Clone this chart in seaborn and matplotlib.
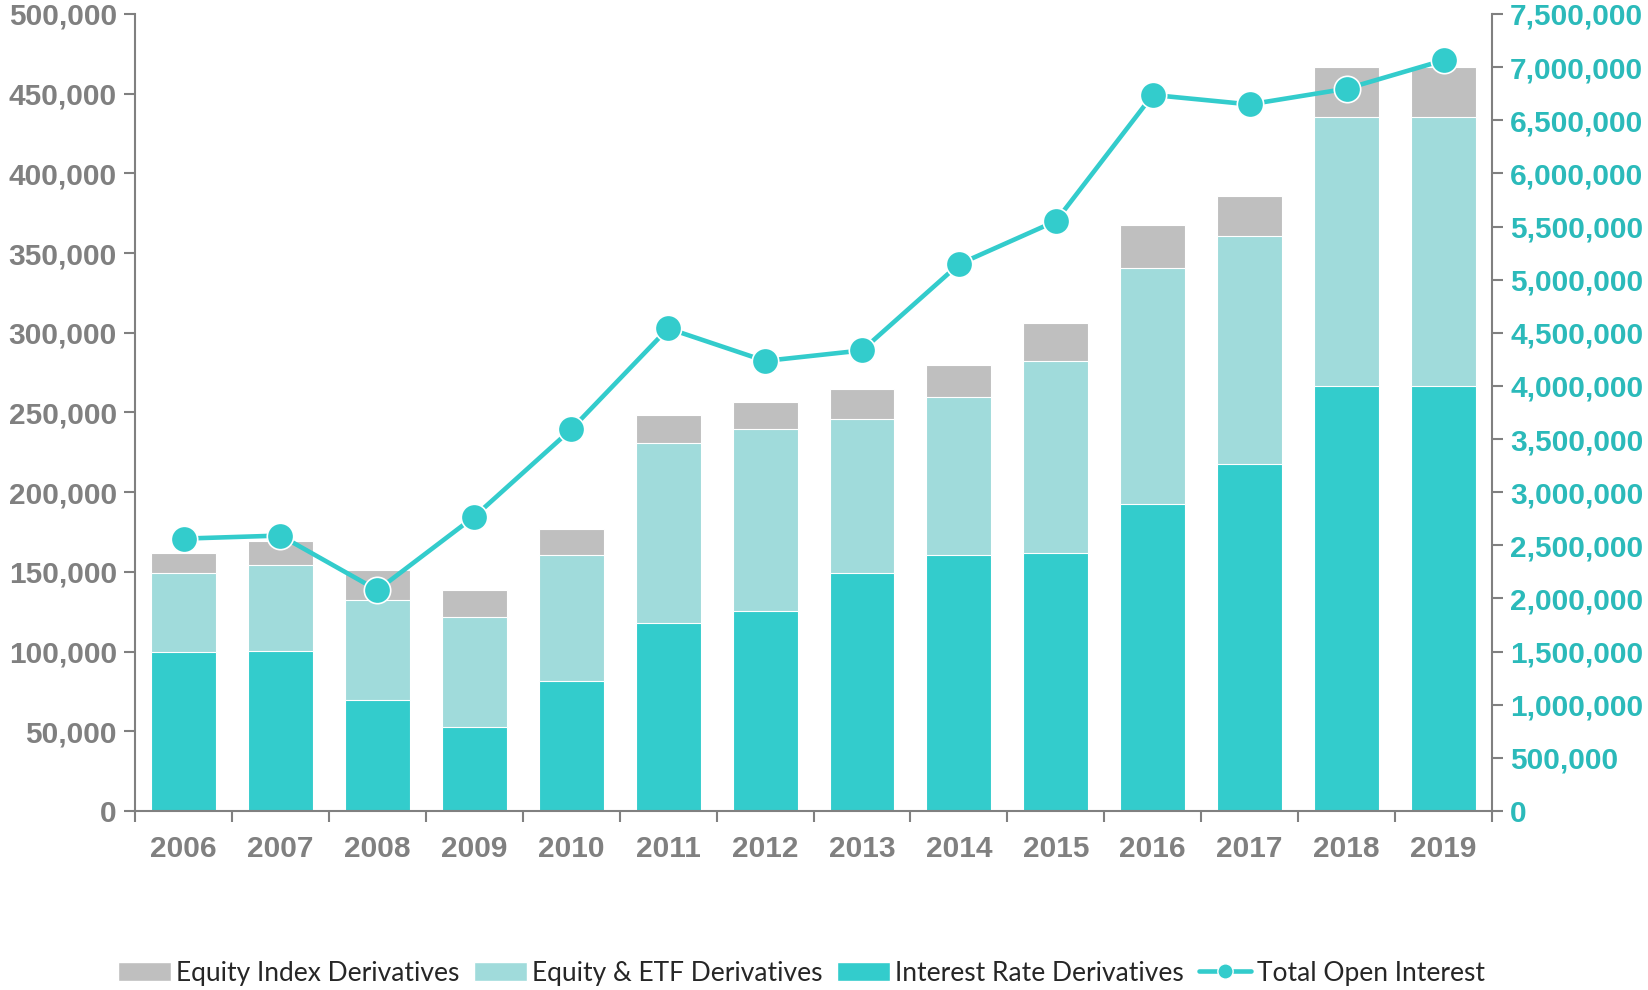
import numpy as np
import pandas as pd
import seaborn as sns
import matplotlib.pyplot as plt
from matplotlib.ticker import FuncFormatter, MultipleLocator, FixedLocator
from matplotlib.lines import Line2D
from matplotlib.patches import Patch

# data
years = ['2006', '2007', '2008', '2009', '2010', '2011', '2012',
         '2013', '2014', '2015', '2016', '2017', '2018', '2019']
interest_rate = [100000, 100300, 69900, 52800, 81800, 118100, 125300,
                 149100, 160900, 161600, 192600, 217700, 266500, 266500]
equity_etf = [49000, 54000, 62700, 68600, 78500, 112800, 114100,
              96900, 99000, 120700, 147800, 143100, 168800, 168800]
equity_index = [12600, 15200, 18400, 17100, 16500, 17800, 17200,
                18500, 19800, 23800, 27000, 25100, 31700, 31700]
total_oi = [2563000, 2592000, 2078000, 2770000, 3591000, 4541000, 4235000,
            4334000, 5145000, 5551000, 6738000, 6649000, 6797000, 7064000]

c_index = '#BFBFBF'
c_etf = '#A0DBDB'
c_rate = '#33CCCC'
c_grey = '#808080'
c_right = '#2BBABA'

df = pd.DataFrame({'year': years, 'ir': interest_rate,
                   'etf': equity_etf, 'idx': equity_index})
df['lvl2'] = df['ir'] + df['etf']
df['lvl3'] = df['lvl2'] + df['idx']

sns.set_style('white')
plt.rcParams['font.family'] = ['Liberation Sans', 'DejaVu Sans']

fig = plt.figure(figsize=(16.49, 9.9), dpi=100)
ax = fig.add_axes([0.0819, 0.1808, 0.8229, 0.8051])

# stacked bars: draw the tallest first, smaller ones on top
for col, color in [('lvl3', c_index), ('lvl2', c_etf), ('ir', c_rate)]:
    sns.barplot(data=df, x='year', y=col, color=color, width=0.67,
                saturation=1, edgecolor='white', linewidth=0.8, ax=ax)

ax.set_xlim(-0.5, len(years) - 0.5)
ax.set_ylim(0, 500000)
ax.yaxis.set_major_locator(MultipleLocator(50000))
ax.yaxis.set_major_formatter(FuncFormatter(lambda v, p: f'{int(v):,}'))
ax.set_xlabel('')
ax.set_ylabel('')

ax2 = ax.twinx()
sns.lineplot(x=np.arange(len(years)), y=total_oi, color=c_rate, linewidth=3.3,
             marker='o', markersize=19, markeredgecolor='white',
             markeredgewidth=1.2, ax=ax2)
ax2.set_ylim(0, 7500000)
ax2.yaxis.set_major_locator(MultipleLocator(500000))
ax2.yaxis.set_major_formatter(FuncFormatter(lambda v, p: f'{int(v):,}'))
ax2.set_xlim(-0.5, len(years) - 0.5)

for a in (ax, ax2):
    for s in a.spines.values():
        s.set_color(c_grey)
        s.set_linewidth(1.5)
    a.spines['top'].set_visible(False)
    a.grid(False)

ax.spines['right'].set_visible(False)
ax2.spines['left'].set_visible(False)
ax2.spines['bottom'].set_visible(False)

ax.tick_params(axis='y', direction='out', length=8, width=1.5, color=c_grey,
               labelsize=21.5, labelcolor=c_grey, pad=5, left=True)
ax.tick_params(axis='x', which='major', length=0, labelsize=21.5,
               labelcolor=c_grey, pad=17)
ax.xaxis.set_minor_locator(FixedLocator(np.arange(-0.5, len(years), 1.0)))
ax.tick_params(axis='x', which='minor', direction='out', length=8, width=1.5,
               color=c_grey, bottom=True)
ax2.tick_params(axis='y', direction='out', length=8, width=1.5, color=c_grey,
                labelsize=21.5, labelcolor=c_right, pad=5, right=True)

for lab in ax.get_xticklabels() + ax.get_yticklabels() + ax2.get_yticklabels():
    lab.set_fontweight('bold')

handles = [Patch(facecolor=c_index, label='Equity Index Derivatives'),
           Patch(facecolor=c_etf, label='Equity & ETF Derivatives'),
           Patch(facecolor=c_rate, label='Interest Rate Derivatives'),
           Line2D([], [], color=c_rate, linewidth=3.3, marker='o', markersize=11,
                  markeredgecolor='white', label='Total Open Interest')]
fig.legend(handles=handles, loc='center', bbox_to_anchor=(0.486, 0.017),
           ncol=4, frameon=False, prop={'family': ['Lato', 'DejaVu Sans'], 'size': 19},
           handlelength=2.0, handleheight=0.75, handletextpad=0.2,
           columnspacing=0.55, borderaxespad=0)

fig.savefig('out.png', dpi=100)
